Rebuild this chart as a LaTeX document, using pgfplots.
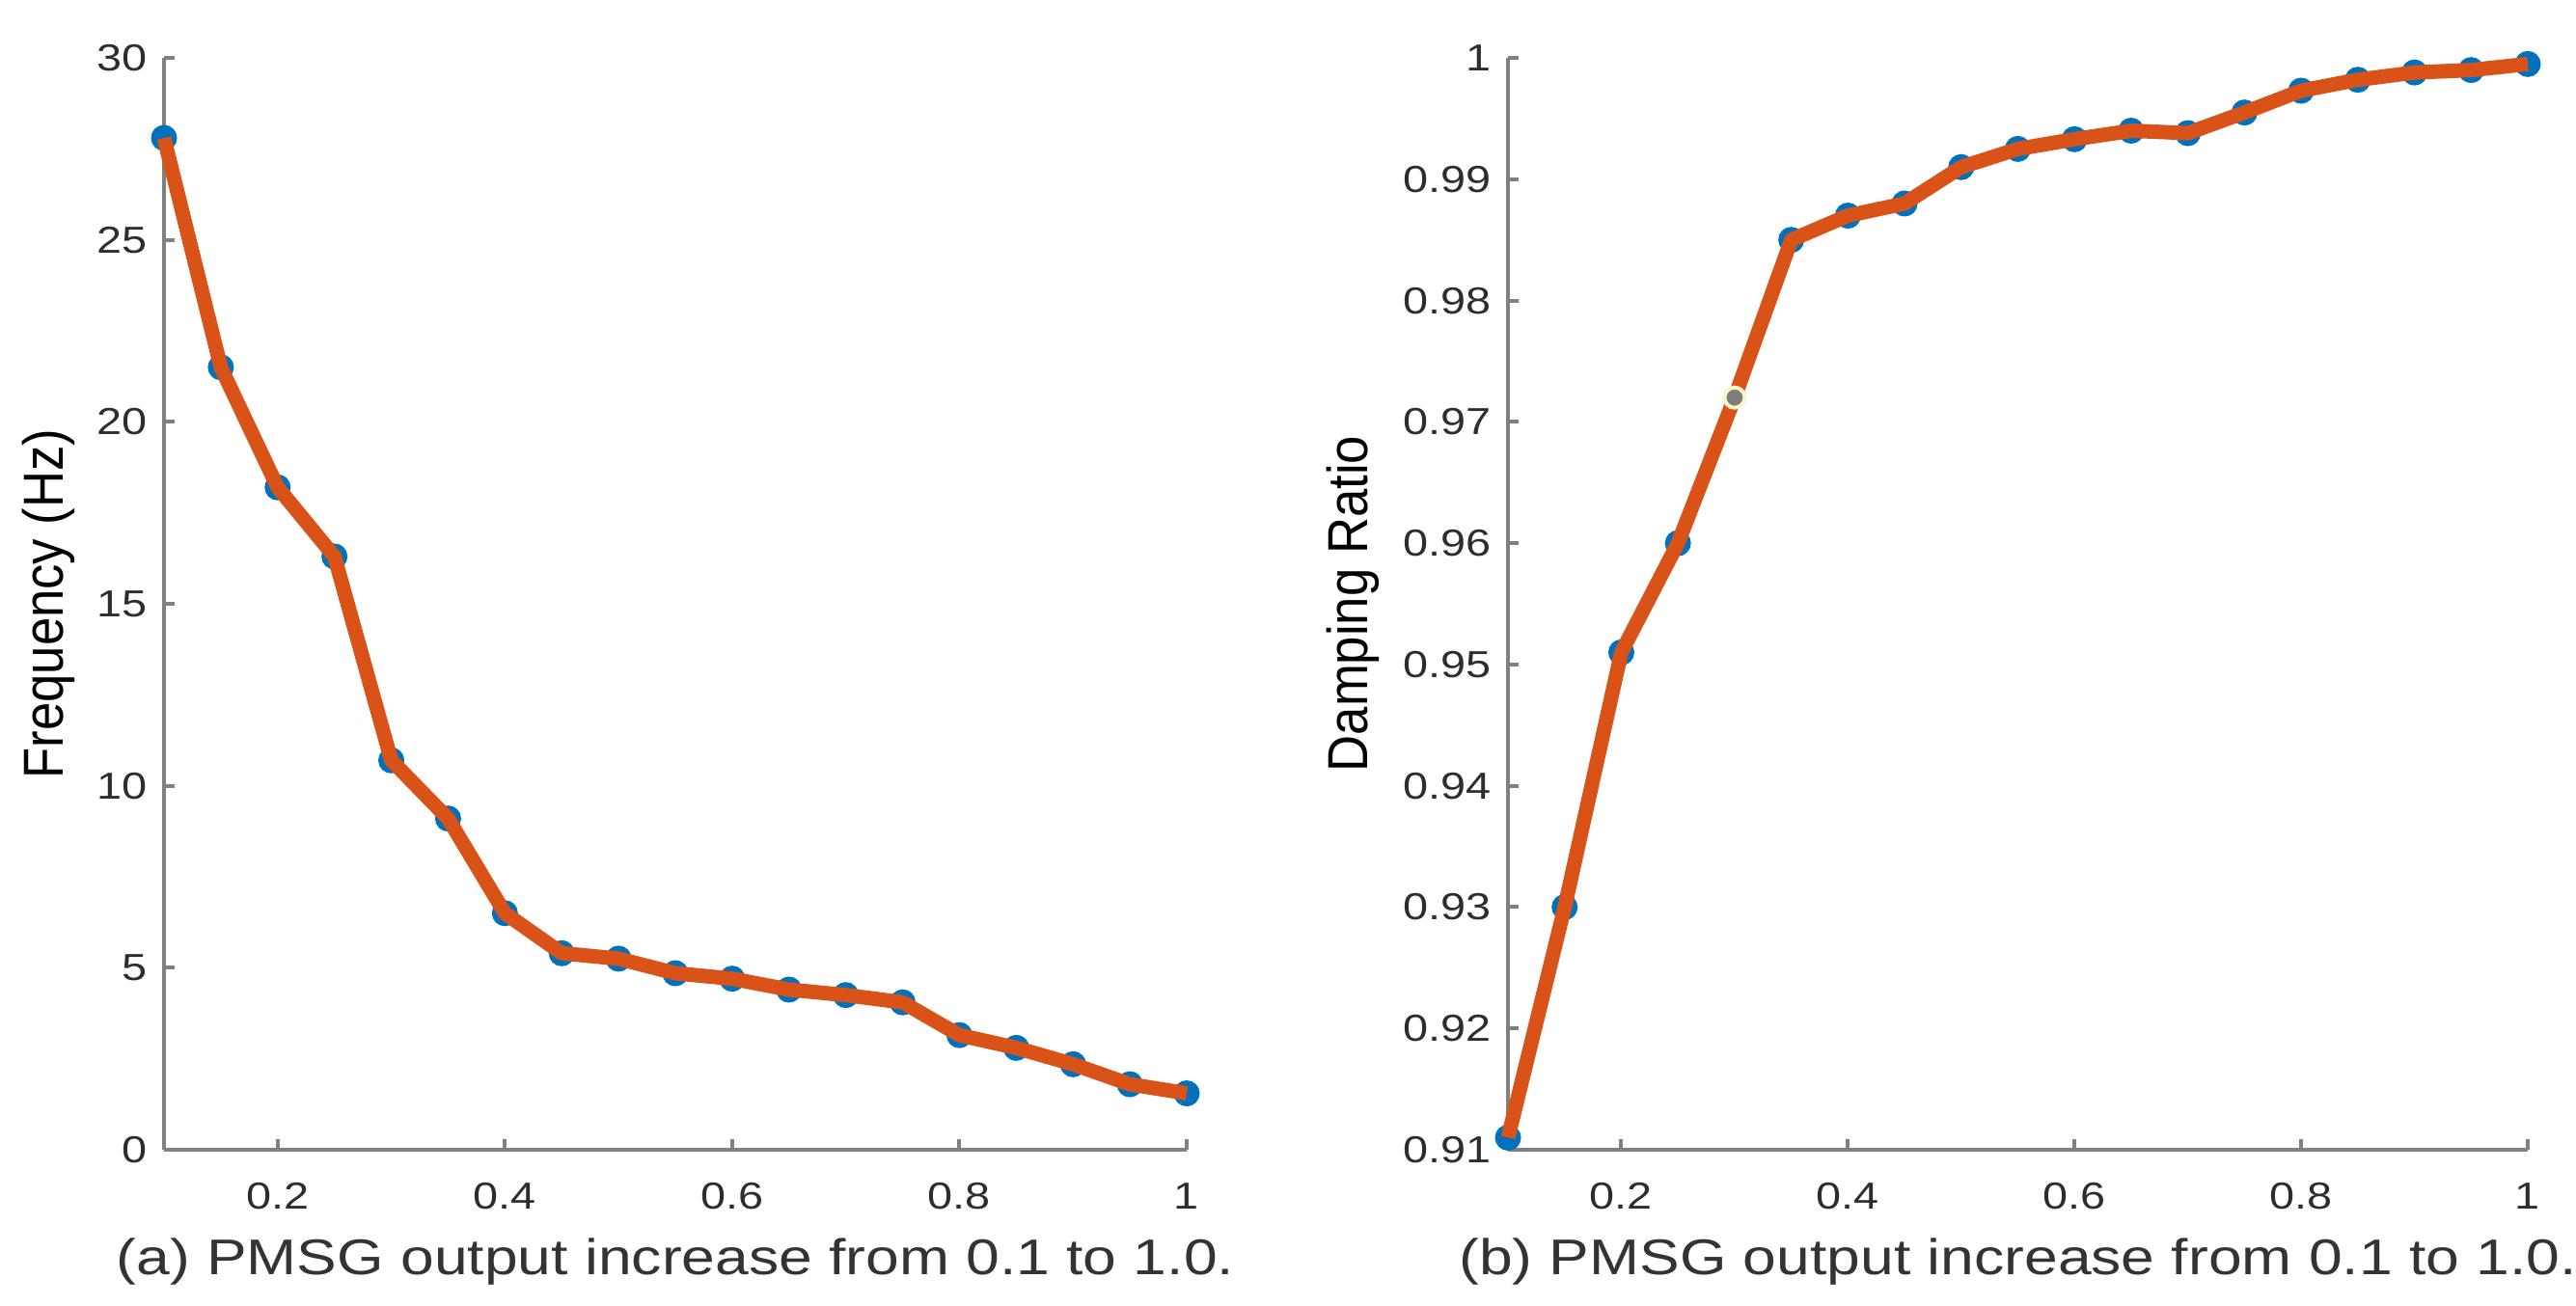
\documentclass[border=0pt]{standalone}
\usepackage{fontspec}
\setmainfont{Liberation Sans}
\usepackage{graphicx}
\usepackage{pgfplots}
\pgfplotsset{compat=1.18}

\definecolor{matblue}{RGB}{0,114,189}
\definecolor{matorange}{RGB}{217,83,25}
\definecolor{axgray}{RGB}{128,128,128}
\definecolor{tickgray}{RGB}{45,45,45}
\definecolor{tipgray}{RGB}{125,125,125}
\definecolor{tiphalo}{RGB}{250,245,200}

% the source image is stretched sideways: text is widened with \scalebox
\newcommand{\wide}[1]{\scalebox{1.2}[1]{#1}}
\newcommand{\narrow}[1]{\scalebox{0.9}[1]{#1}}

\pgfplotsset{
  matstyle/.style={
    scale only axis,
    height=226.4pt,
    clip=false,
    clip marker paths=true,
    axis x line*=bottom,
    axis y line*=left,
    axis line style={axgray, line width=0.8pt},
    tick style={axgray, line width=0.8pt},
    major tick length=2.2pt,
    tick align=inside,
    xmin=0.1, xmax=1,
    xtick={0.2,0.4,0.6,0.8,1},
    /pgf/number format/assume math mode=true,
    tick label style={font=\fontsize{7.8}{9}\selectfont, text=tickgray},
    xticklabel={\wide{\pgfmathprintnumber{\tick}}},
    yticklabel={\wide{\pgfmathprintnumber{\tick}}},
    x tick label style={yshift=-3.4pt},
    y label style={font=\fontsize{11.7}{14}\selectfont},
    x label style={at={(axis description cs:0.5,-0.1148)}, anchor=base,
      font=\fontsize{10.4}{12}\selectfont, text=black!80},
  }
}

\begin{document}
\begin{tikzpicture}
\useasboundingbox (-34pt,-32.2pt) rectangle (500pt,238.4pt);

\begin{axis}[matstyle,
  at={(0,0)}, anchor=south west,
  width=212pt,
  ymin=0, ymax=30,
  ytick={0,5,10,15,20,25,30},
  ylabel={\narrow{Frequency (Hz)}},
  y label style={at={(axis description cs:0,0.5)}, anchor=center, yshift=24pt},
  xlabel={\wide{(a) PMSG output increase from 0.1 to 1.0.}},
]
\addplot[only marks, mark=*, mark size=2.5pt, color=matblue] coordinates {
  (0.10,27.8) (0.15,21.5) (0.20,18.2) (0.25,16.3) (0.30,10.7)
  (0.35,9.1) (0.40,6.5) (0.45,5.4) (0.50,5.25) (0.55,4.85)
  (0.60,4.7) (0.65,4.4) (0.70,4.25) (0.75,4.05) (0.80,3.15)
  (0.85,2.8) (0.90,2.35) (0.95,1.8) (1.00,1.55)
};
\addplot[matorange, line width=3pt, line join=round] coordinates {
  (0.10,27.8) (0.15,21.5) (0.20,18.2) (0.25,16.3) (0.30,10.7)
  (0.35,9.1) (0.40,6.5) (0.45,5.4) (0.50,5.25) (0.55,4.85)
  (0.60,4.7) (0.65,4.4) (0.70,4.25) (0.75,4.05) (0.80,3.15)
  (0.85,2.8) (0.90,2.35) (0.95,1.8) (1.00,1.55)
};
\end{axis}

\begin{axis}[matstyle,
  at={(278.6pt,0)}, anchor=south west,
  width=211.4pt,
  ymin=0.91, ymax=1,
  ytick={0.91,0.92,0.93,0.94,0.95,0.96,0.97,0.98,0.99,1},
  ylabel={\narrow{Damping Ratio}},
  y label style={at={(axis description cs:0,0.5)}, anchor=center, yshift=32.2pt},
  xlabel={\wide{(b) PMSG output increase from 0.1 to 1.0.}},
]
\addplot[only marks, mark=*, mark size=2.5pt, color=matblue] coordinates {
  (0.10,0.911) (0.15,0.930) (0.20,0.951) (0.25,0.960)
  (0.35,0.985) (0.40,0.987) (0.45,0.988) (0.50,0.991) (0.55,0.9925)
  (0.60,0.9933) (0.65,0.9940) (0.70,0.9938) (0.75,0.9955) (0.80,0.9973)
  (0.85,0.9982) (0.90,0.9988) (0.95,0.9990) (1.00,0.9995)
};
\addplot[matorange, line width=3pt, line join=round] coordinates {
  (0.10,0.911) (0.15,0.930) (0.20,0.951) (0.25,0.960) (0.30,0.972)
  (0.35,0.985) (0.40,0.987) (0.45,0.988) (0.50,0.991) (0.55,0.9925)
  (0.60,0.9933) (0.65,0.9940) (0.70,0.9938) (0.75,0.9955) (0.80,0.9973)
  (0.85,0.9982) (0.90,0.9988) (0.95,0.9990) (1.00,0.9995)
};
% data tip marker
\addplot[only marks, mark=*, mark size=2.1pt, draw=tiphalo, fill=tipgray, line width=0.8pt] coordinates {
  (0.30,0.972)
};
\end{axis}
\end{tikzpicture}
\end{document}
